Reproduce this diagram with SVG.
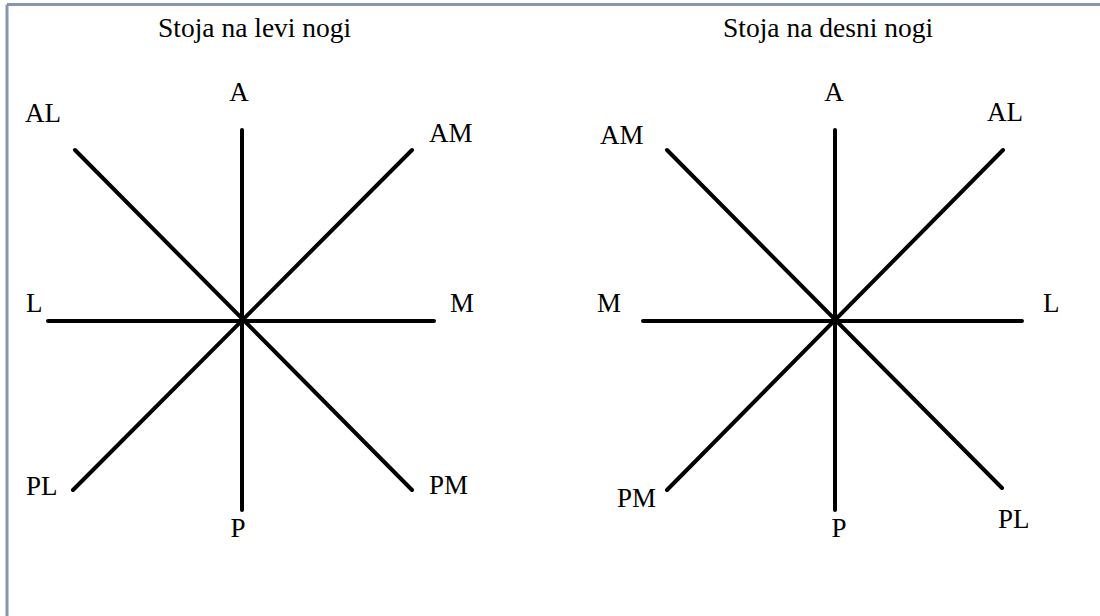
<svg xmlns="http://www.w3.org/2000/svg" width="1100" height="616" viewBox="0 0 1100 616">
<style>
.frame{stroke:#8797ad;stroke-width:3;fill:none}
.ray{stroke:#000;stroke-width:4;stroke-linecap:round}
text{font-family:'Liberation Serif','Times New Roman',serif;fill:#000}
.t{font-size:27.5px}
.lb{font-size:27px}
</style>
<rect width="1100" height="616" fill="#fff"/>
<g id="frame">
<line class="frame" x1="7" y1="4.5" x2="1100" y2="4.5"/>
<line class="frame" x1="7" y1="4.5" x2="7" y2="616"/>
</g>
<g id="left-star">
<text class="t" x="158" y="37">Stoja na levi nogi</text>
<g id="connectors-left">
<line class="ray" x1="242" y1="130" x2="242" y2="510"/>
<line class="ray" x1="48" y1="321" x2="434" y2="321"/>
<line class="ray" x1="75" y1="150" x2="412" y2="490"/>
<line class="ray" x1="412" y1="150" x2="73" y2="490"/>
</g>
<text id="l-A" class="lb" x="239" y="101" text-anchor="middle">A</text>
<text id="l-AL" class="lb" x="25" y="122">AL</text>
<text id="l-AM" class="lb" x="429" y="142">AM</text>
<text id="l-L" class="lb" x="26" y="312">L</text>
<text id="l-M" class="lb" x="450" y="312">M</text>
<text id="l-PL" class="lb" x="26" y="495">PL</text>
<text id="l-PM" class="lb" x="429" y="494">PM</text>
<text id="l-P" class="lb" x="238" y="537" text-anchor="middle">P</text>
</g>
<g id="right-star">
<text class="t" x="723" y="37">Stoja na desni nogi</text>
<g id="connectors-right">
<line class="ray" x1="835" y1="130" x2="835" y2="510"/>
<line class="ray" x1="643" y1="321" x2="1022" y2="321"/>
<line class="ray" x1="667" y1="150" x2="1002" y2="488"/>
<line class="ray" x1="1003" y1="150" x2="667" y2="490"/>
</g>
<text id="r-A" class="lb" x="834" y="101" text-anchor="middle">A</text>
<text id="r-AM" class="lb" x="600" y="144">AM</text>
<text id="r-AL" class="lb" x="987" y="121">AL</text>
<text id="r-M" class="lb" x="597" y="312">M</text>
<text id="r-L" class="lb" x="1043" y="312">L</text>
<text id="r-PM" class="lb" x="617" y="507">PM</text>
<text id="r-PL" class="lb" x="998" y="528">PL</text>
<text id="r-P" class="lb" x="839" y="537" text-anchor="middle">P</text>
</g>
</svg>
